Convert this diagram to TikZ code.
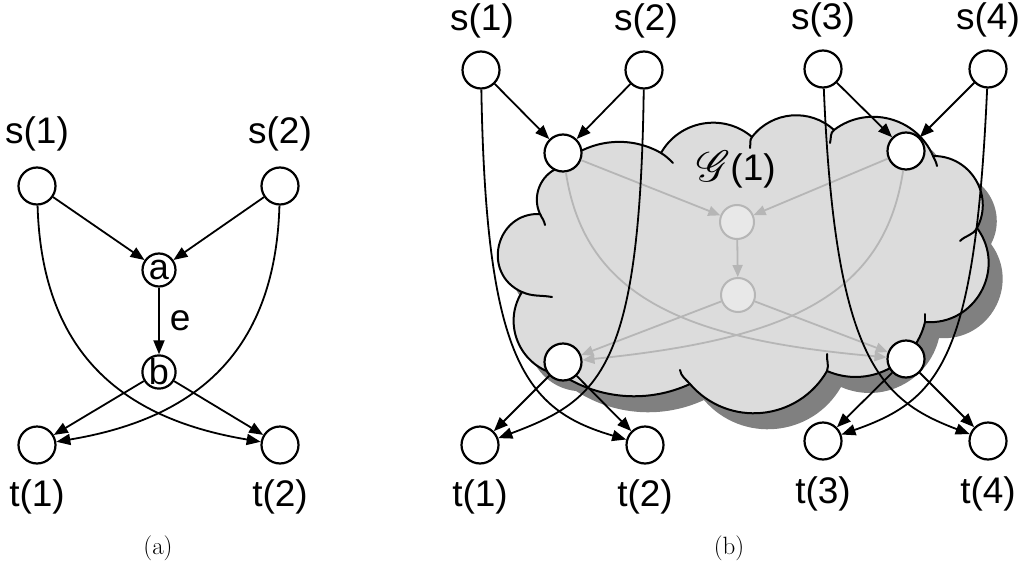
\documentclass[tikz,border=0pt]{standalone}
\usepackage{fontspec}
\usepackage{graphicx}
\usepackage{mathrsfs}
\usetikzlibrary{arrows.meta}
\newfontfamily\arialfont{Liberation Sans}
\definecolor{cloudfill}{RGB}{220,220,220}
\definecolor{cloudshadow}{RGB}{128,128,128}
\definecolor{innerline}{RGB}{182,182,182}
\definecolor{innerfill}{RGB}{232,232,232}

% outline of the cloud, puff by puff (clockwise, from the top-left node)
\def\cloudpath{(558,-168)
  to[out=46.5,in=150,looseness=0.95] (661,-153)
  to[out=60.6,in=139.4,looseness=1.04] (752,-137)
  to[out=52.4,in=137.4,looseness=1.02] (834,-130)
  to[out=37.4,in=113.2,looseness=1.05] (933,-156)
  to[out=0.7,in=62.1,looseness=1.13] (977,-228)
  to[out=-53.5,in=-4.45,looseness=1.2] (925,-322)
  to[out=-103.4,in=-23.4,looseness=1.04] (827,-371)
  to[out=-120,in=-49.2,looseness=1.08] (690,-384)
  to[out=204.8,in=327.2,looseness=0.91] (562,-375)
  to[out=173.8,in=237.6,looseness=1.11] (522,-292)
  to[out=156.3,in=177.7,looseness=1.43] (540,-214)
  to[out=115.2,in=202,looseness=1.0] (558,-168) -- cycle}

\begin{document}
\begin{tikzpicture}[x=1pt,y=1pt,
  vtx/.style={circle,draw,line width=2.2pt,fill=white,minimum size=37pt,inner sep=0pt},
  svtx/.style={vtx,minimum size=33pt,font=\arialfont\fontsize{36}{40}\selectfont},
  gvtx/.style={circle,draw=innerline,line width=2pt,fill=innerfill,minimum size=34pt,inner sep=0pt},
  lbl/.style={font=\arialfont\fontsize{37}{42}\selectfont,inner sep=0pt},
  captxt/.style={font=\fontsize{25}{30}\selectfont,inner sep=0pt},
  blk/.style={line width=1.8pt,-{Triangle[length=14pt,width=11pt]}},
  gry/.style={draw=innerline,line width=1.8pt,-{Triangle[length=12pt,width=10pt]}},
  puff/.style={line width=2pt,line cap=round}
]
\useasboundingbox (0,0) rectangle (1024,-567);

% ---------------- (a) ----------------
\node[vtx] (s1) at (37,-186) {};
\node[vtx] (s2) at (280,-186) {};
\node[svtx] (a) at (159,-270) {a};
\node[svtx] (b) at (159,-372) {b};
\node[vtx] (t1) at (37,-445) {};
\node[vtx] (t2) at (280,-445) {};

\node[lbl] (ls1) at (37,-134) {s(1)};
\node[lbl] (ls2) at (280,-134) {s(2)};
\node[lbl] (lt1) at (37,-497) {t(1)};
\node[lbl] (lt2) at (280,-497) {t(2)};

\draw[blk] (s1) -- (a);
\draw[blk] (s2) -- (a);
\draw[blk] (a) -- node[lbl,right=10pt] (le) {e} (b);
\draw[blk] (b) -- (t1);
\draw[blk] (b) -- (t2);
\draw[blk] (s1) .. controls (42,-360) and (130,-420) .. (t2);
\draw[blk] (s2) .. controls (275,-360) and (187,-420) .. (t1);

\node[captxt] (capa) at (158,-548) {(a)};

% ---------------- (b) ----------------
% cloud with its drop shadow
\begin{scope}[shift={(14,-16)}]
  \fill[cloudshadow] \cloudpath;
\end{scope}
\fill[cloudfill] \cloudpath;
\draw[puff] \cloudpath;

% inner ends of the puffs
\draw[puff] (661,-153) to[out=-32,in=135] (673,-163);
\draw[puff] (750,-148) to[out=80,in=232] (752,-137);
\draw[puff] (830,-143) to[out=75,in=217] (834,-130);
\draw[puff] (933,-156) to[out=-67,in=100] (937,-166);
\draw[puff] (977,-228) to[out=-118,in=45] (960,-241);
\draw[puff] (925,-314) -- (925,-322);
\draw[puff] (827,-354) to[out=-95,in=70] (827,-371);
\draw[puff] (690,-384) to[out=131,in=-80] (680,-370);
\draw[puff] (552,-297) to[out=170,in=-24] (522,-292);
\draw[puff] (545,-225) to[out=100,in=-65] (540,-214);

\node[lbl] (gl) at (736,-170) {\raisebox{-1pt}{\scalebox{1.75}{$\mathscr{G}$}}(1)};

% vertices
\node[vtx] (s1b) at (481,-70) {};
\node[vtx] (s2b) at (644,-70) {};
\node[vtx] (s3b) at (823,-69) {};
\node[vtx] (s4b) at (988,-69) {};
\node[vtx] (TL) at (563,-153) {};
\node[vtx] (TR) at (906,-151) {};
\node[gvtx] (g1) at (737,-222) {};
\node[gvtx] (g2) at (738,-295) {};
\node[vtx] (BL) at (563,-362) {};
\node[vtx] (BR) at (906,-359) {};
\node[vtx] (t1b) at (480,-445) {};
\node[vtx] (t2b) at (645,-445) {};
\node[vtx] (t3b) at (823,-441) {};
\node[vtx] (t4b) at (988,-441) {};

\node[lbl] (ls1b) at (482,-21) {s(1)};
\node[lbl] (ls2b) at (646,-21) {s(2)};
\node[lbl] (ls3b) at (823,-20) {s(3)};
\node[lbl] (ls4b) at (988,-20) {s(4)};
\node[lbl] (lt1b) at (480,-497) {t(1)};
\node[lbl] (lt2b) at (645,-497) {t(2)};
\node[lbl] (lt3b) at (823,-494) {t(3)};
\node[lbl] (lt4b) at (988,-494) {t(4)};

% edges inside the cloud
\draw[gry] (TL) -- (g1);
\draw[gry] (TR) -- (g1);
\draw[gry] (g1) -- (g2);
\draw[gry] (g2) -- (BL);
\draw[gry] (g2) -- (BR);
\draw[gry] (TL) .. controls (585,-300) and (690,-340) .. (BR);
\draw[gry] (TR) .. controls (884,-300) and (780,-340) .. (BL);

% edges outside
\draw[blk] (s1b) -- (TL);
\draw[blk] (s2b) -- (TL);
\draw[blk] (s3b) -- (TR);
\draw[blk] (s4b) -- (TR);
\draw[blk] (BL) -- (t1b);
\draw[blk] (BL) -- (t2b);
\draw[blk] (BR) -- (t3b);
\draw[blk] (BR) -- (t4b);
\draw[blk] (s1b) .. controls (486,-360) and (525,-410) .. (t2b);
\draw[blk] (s2b) .. controls (640,-370) and (600,-400) .. (t1b);
\draw[blk] (s3b) .. controls (835,-360) and (880,-400) .. (t4b);
\draw[blk] (s4b) .. controls (975,-360) and (940,-400) .. (t3b);

\node[captxt] (capb) at (729,-548) {(b)};
\end{tikzpicture}
\end{document}
